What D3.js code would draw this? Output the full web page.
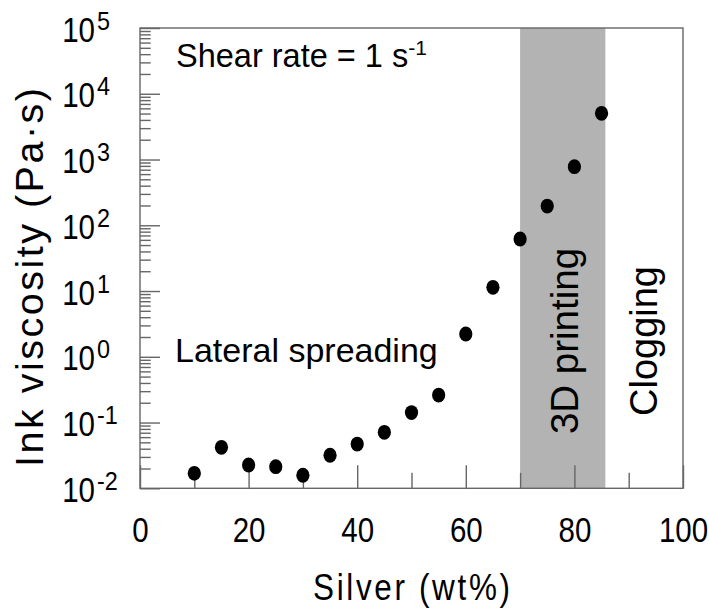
<!DOCTYPE html>
<html>
<head>
<meta charset="utf-8">
<script src="https://cdn.jsdelivr.net/npm/d3@7"></script>
<style>
  body { margin: 0; background: #fff; }
  svg { display: block; }
  text { font-family: "Liberation Sans", Arial, sans-serif; fill: #000; }
</style>
</head>
<body>
<svg id="chart" width="709" height="614"></svg>
<script>
// silver content (wt%) and measured ink viscosity (Pa.s) at 1 s-1
var silver    = [10, 15, 20, 25, 30, 35, 40, 45, 50, 55, 60, 65, 70, 75, 80, 85];
var viscosity = [0.0169, 0.042, 0.0226, 0.0213, 0.0158, 0.0318, 0.047, 0.071,
                 0.142, 0.262, 2.22, 11.4, 61.8, 196, 778, 5040];

var xLabelTicks = [0, 20, 40, 60, 80, 100];
var xMinorTicks = [10, 30, 50, 70, 90];
var yExponents  = [-2, -1, 0, 1, 2, 3, 4, 5];
var printBand   = [70, 85.7];   // "3D printing" window

var svg = d3.select("#chart");
var pl = 140, pr = 683, pt = 28, pb = 488.3;
var squeeze = 0.82;   // narrow look for the axis numbers

var x = d3.scaleLinear().domain([0, 100]).range([pl, pr]);
var y = d3.scaleLog().domain([1e-2, 1e5]).range([pb, pt]);

var axisColor = "#666";

// grey band
svg.append("rect")
    .attr("x", x(printBand[0]))
    .attr("y", pt)
    .attr("width", x(printBand[1]) - x(printBand[0]))
    .attr("height", pb - pt)
    .attr("fill", "#b3b3b3");

// frame
svg.append("rect")
    .attr("x", pl).attr("y", pt)
    .attr("width", pr - pl).attr("height", pb - pt)
    .attr("fill", "none").attr("stroke", axisColor).attr("stroke-width", 1.4);

// x axis - labelled ticks
var xAxis = svg.append("g")
    .attr("transform", "translate(0," + pb + ")")
    .call(d3.axisBottom(x).tickValues(xLabelTicks).tickSizeInner(-23).tickSizeOuter(0).tickPadding(28));
var xMinor = svg.append("g")
    .attr("transform", "translate(0," + pb + ")")
    .call(d3.axisBottom(x).tickValues(xMinorTicks).tickSizeInner(-15.5).tickSizeOuter(0).tickFormat(""));

xAxis.selectAll("text")
    .attr("font-size", 36)
    .attr("font-family", "Liberation Sans, sans-serif")
    .attr("fill", "#000")
    .attr("transform", "scale(" + squeeze + ",1)");

// y axis - decades and minor ticks
var decades = yExponents.map(function(e) { return Math.pow(10, e); });
var minors = [];
yExponents.slice(0, -1).forEach(function(e) {
  for (var k = 2; k <= 9; k++) minors.push(k * Math.pow(10, e));
});

var yAxis = svg.append("g")
    .attr("transform", "translate(" + pl + ",0)")
    .call(d3.axisLeft(y).tickValues(decades).tickSizeInner(-20).tickSizeOuter(0).tickFormat(""));
var yMinor = svg.append("g")
    .attr("transform", "translate(" + pl + ",0)")
    .call(d3.axisLeft(y).tickValues(minors).tickSizeInner(-10.7).tickSizeOuter(0).tickFormat(""));

[xAxis, xMinor, yAxis, yMinor].forEach(function(g) {
  g.select(".domain").remove();
  g.selectAll("line").attr("stroke", axisColor).attr("stroke-width", 1.4);
});

// decade labels 10^n
var yLab = svg.append("g").selectAll("g")
    .data(yExponents)
    .enter().append("g")
    .attr("transform", function(d) { return "translate(0," + y(Math.pow(10, d)) + ")"; });
yLab.append("text")
    .attr("transform", "translate(95,13.5) scale(" + squeeze + ",1)")
    .attr("text-anchor", "end")
    .attr("font-size", 36)
    .text("10");
yLab.append("text")
    .attr("transform", "translate(97,1.5) scale(0.9,1)")
    .attr("font-size", 26)
    .text(function(d) { return d; });

// data points
svg.append("g").selectAll("ellipse")
    .data(silver)
    .enter().append("ellipse")
    .attr("cx", function(d) { return x(d); })
    .attr("cy", function(d, i) { return y(viscosity[i]); })
    .attr("rx", 6.6)
    .attr("ry", 7.4)
    .attr("fill", "#000");

// annotations
var shear = svg.append("text")
    .attr("x", 176).attr("y", 67)
    .attr("font-size", 32.5);
shear.append("tspan").text("Shear rate = 1 s");
shear.append("tspan").attr("dy", -12).attr("font-size", 21).text("-1");

svg.append("text")
    .attr("x", 175).attr("y", 362)
    .attr("font-size", 34)
    .text("Lateral spreading");

svg.append("text")
    .attr("transform", "translate(578,341) rotate(-90)")
    .attr("text-anchor", "middle")
    .attr("font-size", 38.5)
    .text("3D printing");

svg.append("text")
    .attr("transform", "translate(657,341) rotate(-90)")
    .attr("text-anchor", "middle")
    .attr("font-size", 38)
    .text("Clogging");

// axis titles
svg.append("text")
    .attr("transform", "translate(43,467) rotate(-90)")
    .attr("font-size", 39.5)
    .attr("textLength", 379)
    .attr("lengthAdjust", "spacing")
    .text("Ink viscosity (Pa\u00b7s)");

svg.append("text")
    .attr("transform", "translate(411.5,600) scale(0.85,1)")
    .attr("text-anchor", "middle")
    .attr("font-size", 37)
    .attr("textLength", 197 / 0.85)
    .attr("lengthAdjust", "spacing")
    .text("Silver (wt%)");
</script>
</body>
</html>
